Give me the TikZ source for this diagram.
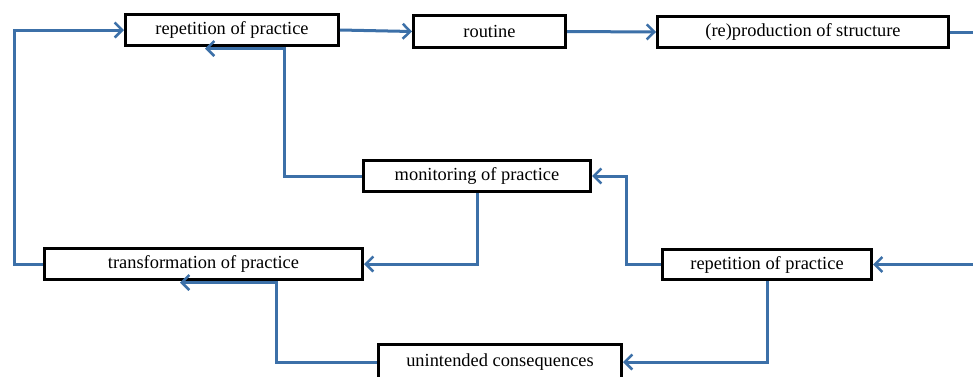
\documentclass[tikz,border=0pt]{standalone}
\usepackage{fontspec}
\setmainfont{Liberation Serif}
\usetikzlibrary{arrows.meta}
\definecolor{linkblue}{RGB}{60,112,168}
\tikzset{
  box/.style={draw=black, line width=3pt, fill=white, inner sep=0pt, text=black,
    font=\fontsize{18.4}{22}\selectfont},
  arr/.style={draw=linkblue, line width=3pt, -{Straight Barb[length=7.5pt,width=15pt,line width=2.5pt]}},
  lnk/.style={draw=linkblue, line width=3pt}
}
\begin{document}
\begin{tikzpicture}[x=1pt,y=-1pt]
\clip (0,0) rectangle (973,376);
\fill[white] (0,0) rectangle (973,376);
% nodes
\node[box, minimum width=213pt, minimum height=31pt] (rep1) at (232,30) {repetition of practice};
\node[box, minimum width=152pt, minimum height=32pt] (rout) at (489.5,31.5) {routine};
\node[box, minimum width=291pt, minimum height=31pt] (prod) at (803,32) {(re)production of structure};
\node[box, minimum width=227pt, minimum height=31pt] (mon) at (477,176) {monitoring of practice};
\node[box, minimum width=318pt, minimum height=31pt] (trans) at (203.5,264) {transformation of practice};
\node[box, minimum width=209pt, minimum height=30pt] (rep2) at (767,264.5) {repetition of practice};
\node[box, minimum width=243pt, minimum height=35pt] (unint) at (500,362) {unintended consequences};
% helper coordinates
\coordinate (lx) at (14,0);
\coordinate (m1) at (284,48.5);
\coordinate (m2) at (205,48.5);
\coordinate (r1) at (626,0);
\coordinate (u1) at (276,282.5);
\coordinate (u2) at (180,282.5);
\coordinate (eA) at (976,32);
\coordinate (eB) at (976,264.5);
% connectors
\draw[arr] (trans.west) -| (lx |- rep1.west) -- (rep1.west);
\draw[arr] (rep1.east) -- (rout.west);
\draw[arr] (rout.east) -- (prod.west);
\draw[lnk] (prod.east) -- (eA);
\draw[arr] (mon.west) -| (m1) -- (m2);
\draw[arr] (mon.south) |- (trans.east);
\draw[arr] (rep2.west) -| (r1 |- mon.east) -- (mon.east);
\draw[arr] (eB) -- (rep2.east);
\draw[arr] (rep2.south) |- (unint.east);
\draw[arr] (unint.west) -| (u1) -- (u2);
\end{tikzpicture}
\end{document}
